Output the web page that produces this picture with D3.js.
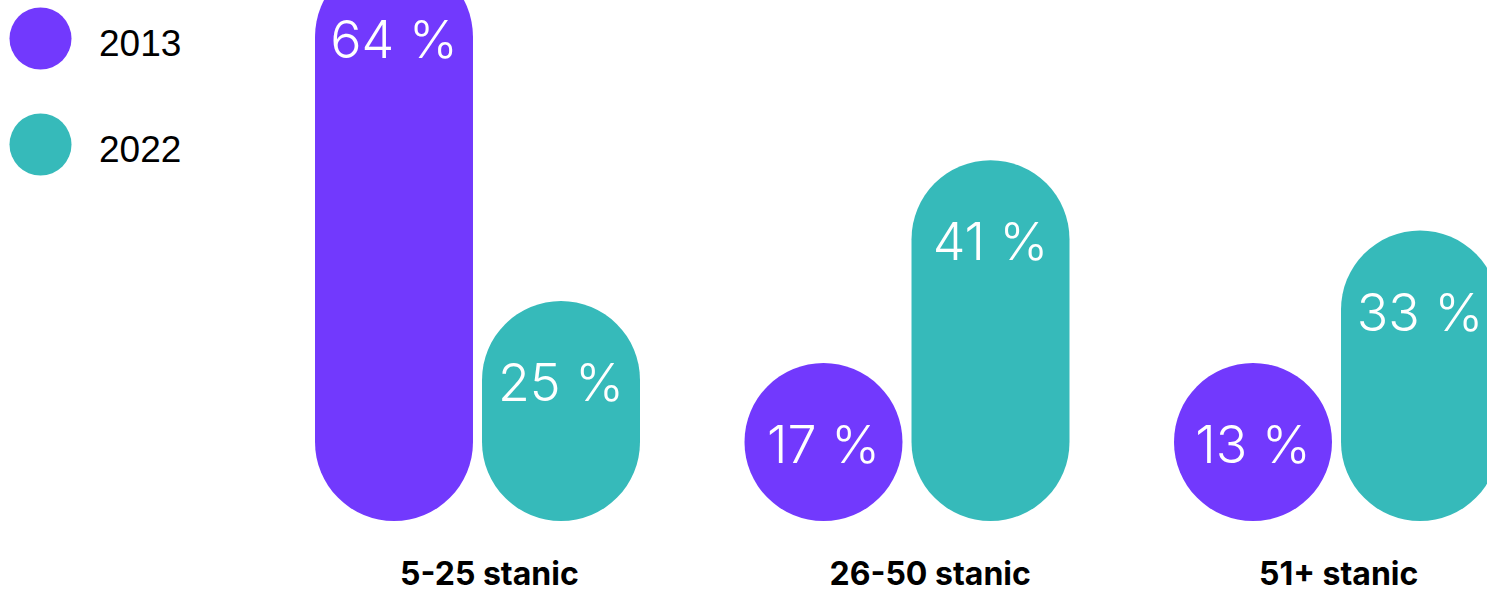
<!DOCTYPE html>
<html>
    <head>
        <title>Stanice 2013 / 2022</title>
        <script src="https://d3js.org/d3.v7.min.js"></script>
        <style>
            body { margin:0; background:#fff; }
            svg { width:1487px; height:589px; display:block; }
            .value-label { font-family:Inter, sans-serif; font-weight:300; font-size:52px; fill:#fff; }
            .cat-label { font-family:Inter, sans-serif; font-weight:700; font-size:32px; fill:#000; }
            .legend-label { font-family:"Liberation Sans", Arial, sans-serif; font-size:37px; fill:#000; }
        </style>
    </head>
    <body>
        <svg id="chart"></svg>
    </body>
    <script>
        // data
        const categories = ['5-25 stanic', '26-50 stanic', '51+ stanic'];
        const years = ['2013', '2022'];
        const values2013 = [64, 17, 13];
        const values2022 = [25, 41, 33];
        const colors = ['#7239fd', '#36baba'];

        const svg = d3.select('#chart');
        const baseline = 521;

        const x0 = d3.scaleBand()
            .domain(categories)
            .range([315, 1499])
            .paddingInner(0.2433)
            .paddingOuter(0);
        const x1 = d3.scaleBand()
            .domain(years)
            .range([0, x0.bandwidth()])
            .paddingInner(0.054);
        const y = d3.scaleLinear()
            .domain([0, 100])
            .range([baseline, baseline - 880]);

        const data = [];
        categories.forEach((c, i) => {
            data.push({ cat: c, year: years[0], value: values2013[i] });
            data.push({ cat: c, year: years[1], value: values2022[i] });
        });

        const bw = x1.bandwidth();
        // short bars never get smaller than a full circle
        const barTop = d => Math.min(y(d.value), baseline - bw);

        const g = svg.append('g');
        g.selectAll('rect')
            .data(data)
            .enter()
            .append('rect')
            .attr('x', d => x0(d.cat) + x1(d.year))
            .attr('y', d => barTop(d))
            .attr('width', bw)
            .attr('height', d => baseline - barTop(d))
            .attr('rx', bw / 2)
            .attr('fill', d => colors[years.indexOf(d.year)]);

        g.selectAll('.value-label')
            .data(data)
            .enter()
            .append('text')
            .attr('class', 'value-label')
            .attr('text-anchor', 'middle')
            .attr('x', d => x0(d.cat) + x1(d.year) + bw / 2)
            .attr('y', d => barTop(d) + bw / 2 + 21)
            .text(d => d.value + ' %');

        g.selectAll('.cat-label')
            .data(categories)
            .enter()
            .append('text')
            .attr('class', 'cat-label')
            .attr('x', d => x0(d) + 85)
            .attr('y', 585)
            .text(d => d);

        // legend
        const legend = svg.append('g').attr('transform', 'translate(40.5, 38.5)');
        const item = legend.selectAll('g')
            .data(years)
            .enter()
            .append('g')
            .attr('transform', (d, i) => `translate(0, ${i * 106})`);
        item.append('circle')
            .attr('r', 31)
            .attr('fill', (d, i) => colors[i]);
        item.append('text')
            .attr('class', 'legend-label')
            .attr('x', 58.5)
            .attr('y', 17)
            .text(d => d);
    </script>
</html>
